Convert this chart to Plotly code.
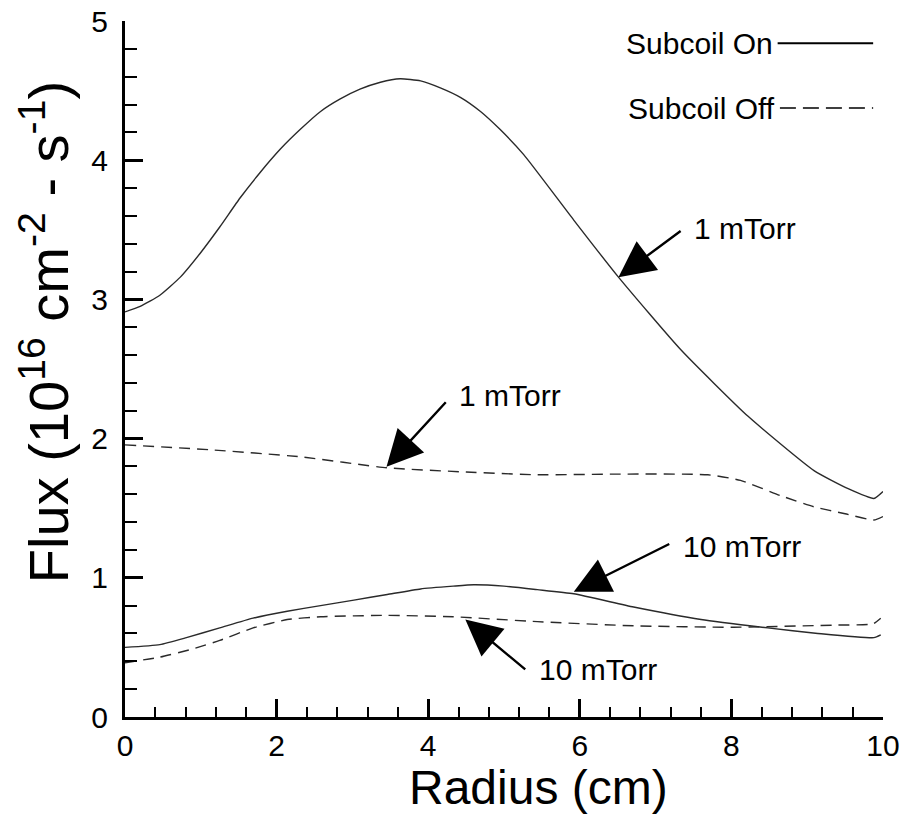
import plotly.graph_objects as go

# ---- data ----
on_1_x = [0, 0.2, 0.46, 0.73, 0.99, 1.25, 1.52, 1.78, 2.05, 2.31, 2.58, 2.84, 3.10, 3.37, 3.63,
          3.90, 4.16, 4.43, 4.69, 4.95, 5.26, 5.92, 6.51, 7.33, 8.22, 9.09, 9.54, 9.88, 10.0]
on_1_y = [2.91, 2.95, 3.03, 3.16, 3.33, 3.52, 3.73, 3.91, 4.08, 4.22, 4.35, 4.44, 4.51, 4.56, 4.585,
          4.57, 4.52, 4.45, 4.35, 4.22, 4.04, 3.57, 3.16, 2.64, 2.16, 1.77, 1.64, 1.57, 1.62]

off_1_x = [0, 1.12, 2.3, 3.46, 4.5, 5.44, 6.5, 7.69, 8.12, 8.65, 9.09, 9.5, 9.88, 10.0]
off_1_y = [1.955, 1.92, 1.87, 1.79, 1.76, 1.74, 1.745, 1.74, 1.70, 1.59, 1.51, 1.46, 1.415, 1.44]

on_10_x = [0, 0.46, 0.81, 1.25, 1.69, 2.14, 2.58, 3.02, 3.46, 3.90, 4.33, 4.6, 5.0, 5.44,
           5.92, 6.71, 7.6, 8.48, 9.14, 9.88, 9.97]
on_10_y = [0.50, 0.52, 0.57, 0.64, 0.71, 0.76, 0.80, 0.84, 0.88, 0.92, 0.94, 0.95, 0.94, 0.915,
           0.885, 0.79, 0.70, 0.64, 0.60, 0.57, 0.59]

off_10_x = [0, 0.46, 0.9, 1.25, 1.69, 2.14, 2.58, 3.46, 4.33, 5.44, 6.71, 8.03, 9.35, 9.87, 9.97]
off_10_y = [0.39, 0.43, 0.49, 0.55, 0.64, 0.70, 0.72, 0.73, 0.72, 0.685, 0.655, 0.645, 0.66, 0.67, 0.71]

# annotation arrows: (label, tip_x, tip_y, tail_x, tail_y, text_x, text_y)
notes = [
    ("1 mTorr", 6.51, 3.16, 7.35, 3.50, 7.48, 3.51),
    ("1 mTorr", 3.45, 1.798, 4.25, 2.272, 4.38, 2.313),
    ("10 mTorr", 5.92, 0.90, 7.20, 1.248, 7.33, 1.223),
    ("10 mTorr", 4.49, 0.70, 5.30, 0.333, 5.44, 0.338),
]

x_ticks = [0, 2, 4, 6, 8, 10]
y_ticks = [0, 1, 2, 3, 4, 5]
x_title = "Radius (cm)"
y_title = "Flux (10<sup>16</sup> cm<sup>-2</sup> - s<sup>-1</sup>)"

FONT = "Liberation Sans, Arial, sans-serif"
LINE_COLOR = "#2a2a2a"
SMOOTH = 0.5

fig = go.Figure()
fig.add_trace(go.Scatter(x=on_1_x, y=on_1_y, mode="lines", line=dict(color=LINE_COLOR, width=1.4, shape="spline", smoothing=SMOOTH), showlegend=False))
fig.add_trace(go.Scatter(x=off_1_x, y=off_1_y, mode="lines", line=dict(color=LINE_COLOR, width=1.4, dash="11px,7px", shape="spline", smoothing=SMOOTH), showlegend=False))
fig.add_trace(go.Scatter(x=on_10_x, y=on_10_y, mode="lines", line=dict(color=LINE_COLOR, width=1.4, shape="spline", smoothing=SMOOTH), showlegend=False))
fig.add_trace(go.Scatter(x=off_10_x, y=off_10_y, mode="lines", line=dict(color=LINE_COLOR, width=1.4, dash="11px,7px", shape="spline", smoothing=SMOOTH), showlegend=False))

annotations = []
for label, tx, ty, ax_, ay_, lx, ly in notes:
    annotations.append(dict(x=tx, y=ty, ax=ax_, ay=ay_, xref="x", yref="y", axref="x", ayref="y",
                            text="", showarrow=True, arrowhead=2, arrowsize=3.0, arrowwidth=2.4,
                            arrowcolor="black", standoff=0, startstandoff=0))
    annotations.append(dict(x=lx, y=ly, xref="x", yref="y", text=label, showarrow=False,
                            xanchor="left", yanchor="middle",
                            font=dict(family=FONT, size=30, color="black")))

# axis titles
annotations.append(dict(x=0.546, y=-0.101, xref="paper", yref="paper", text=x_title,
                        showarrow=False, xanchor="center", yanchor="middle",
                        font=dict(family=FONT, size=48, color="black")))
annotations.append(dict(x=-0.1055, y=0.553, xref="paper", yref="paper", text=y_title,
                        showarrow=False, xanchor="center", yanchor="middle", textangle=-90,
                        font=dict(family=FONT, size=56, color="black")))

# legend (drawn manually: label to the left of the line sample)
annotations.append(dict(x=0.858, y=0.968, xref="paper", yref="paper", text="Subcoil On",
                        showarrow=False, xanchor="right", yanchor="middle",
                        font=dict(family=FONT, size=30, color="black")))
annotations.append(dict(x=0.860, y=0.875, xref="paper", yref="paper", text="Subcoil Off",
                        showarrow=False, xanchor="right", yanchor="middle",
                        font=dict(family=FONT, size=30, color="black")))
shapes = [
    dict(type="line", xref="paper", yref="paper", x0=0.861, x1=0.987, y0=0.968, y1=0.968,
         line=dict(color="black", width=2)),
    dict(type="line", xref="paper", yref="paper", x0=0.864, x1=0.987, y0=0.875, y1=0.875,
         line=dict(color="black", width=1.5, dash="16px,7px")),
]

fig.update_layout(
    width=917, height=814,
    margin=dict(l=125, r=34, t=21, b=97),
    paper_bgcolor="white", plot_bgcolor="white",
    annotations=annotations, shapes=shapes,
    font=dict(family=FONT, color="black"),
)
fig.update_xaxes(
    range=[0, 10], tickvals=x_ticks, ticktext=[str(v) for v in x_ticks],
    automargin=False,
    showgrid=False, zeroline=False, showline=True, linecolor="black", linewidth=3,
    ticks="inside", ticklen=18, tickwidth=3, tickcolor="black",
    minor=dict(dtick=0.4, tick0=0, ticks="inside", ticklen=10, tickwidth=2, tickcolor="black", showgrid=False),
    tickfont=dict(family=FONT, size=30, color="black"),
    ticklabelstandoff=0,
)
fig.update_yaxes(
    range=[0, 5], tickvals=y_ticks, ticktext=[str(v) for v in y_ticks],
    automargin=False,
    showgrid=False, zeroline=False, showline=True, linecolor="black", linewidth=3,
    ticks="inside", ticklen=18, tickwidth=3, tickcolor="black",
    minor=dict(dtick=0.2, tick0=0, ticks="inside", ticklen=12, tickwidth=2, tickcolor="black", showgrid=False),
    tickfont=dict(family=FONT, size=30, color="black"),
    ticklabelstandoff=8,
)

fig.write_html("out.html", config={"displayModeBar": False},
               post_script="document.body.style.margin='0';")
